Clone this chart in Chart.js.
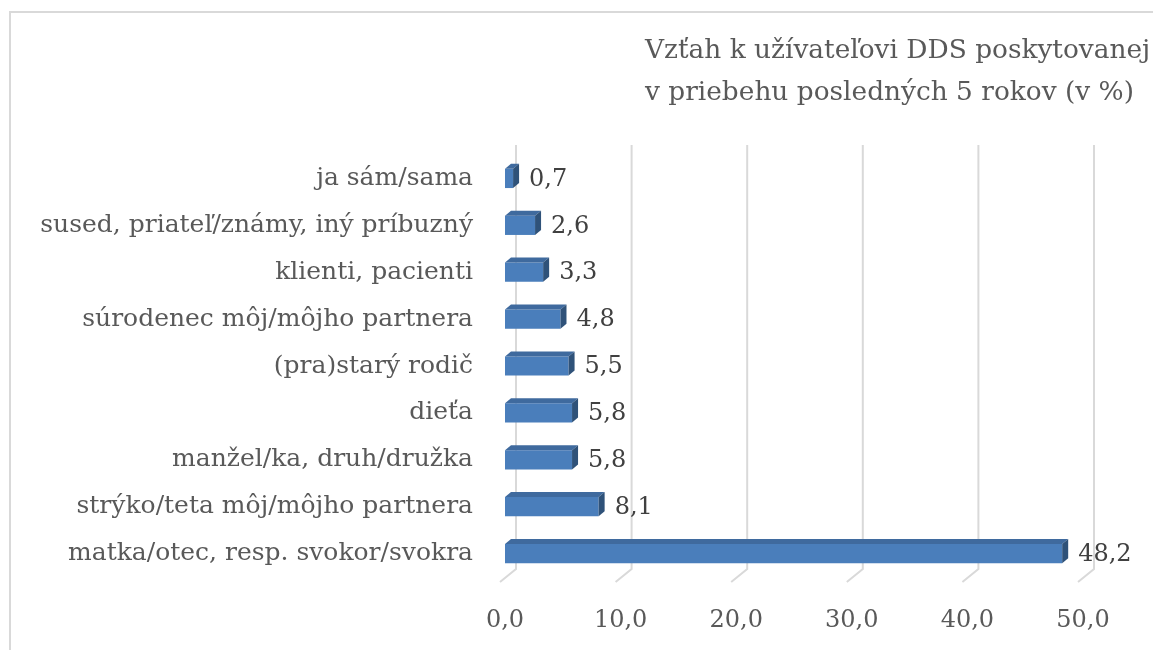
<!DOCTYPE html>
<html lang="sk">
<head>
<meta charset="utf-8">
<title>Vzťah k užívateľovi DDS</title>
<script src="https://cdn.jsdelivr.net/npm/chart.js@4.4.1/dist/chart.umd.min.js"></script>
<style>
  html, body { margin: 0; padding: 0; background: #fff; }
  #wrap { position: relative; width: 1153px; height: 650px; }
</style>
</head>
<body>
<div id="wrap"><canvas id="chart" width="1153" height="650"></canvas></div>
<script>
/* ── Data ─────────────────────────────────────────────── */
const CATEGORIES = [
  "ja sám/sama",
  "sused, priateľ/známy, iný príbuzný",
  "klienti, pacienti",
  "súrodenec môj/môjho partnera",
  "(pra)starý rodič",
  "dieťa",
  "manžel/ka, druh/družka",
  "strýko/teta môj/môjho partnera",
  "matka/otec, resp. svokor/svokra"
];
const VALUES = [0.7, 2.6, 3.3, 4.8, 5.5, 5.8, 5.8, 8.1, 48.2];
const X_TICKS = [0, 10, 20, 30, 40, 50];
const TITLE_LINES = [
  "Vzťah k užívateľovi DDS poskytovanej",
  "v priebehu posledných 5 rokov (v %)"
];

/* ── Style ────────────────────────────────────────────── */
const FONT = "'DejaVu Serif', 'Liberation Serif', serif";
const TEXT = "#595959";
const GRID = "#d9d9d9";
const FRONT = "#4a7ebb";
const TOP = "#3f6a9e";
const SIDE = "#2f5279";
const DX = 6, DY = 5;          // bar depth
const fmt = v => v.toFixed(1).replace(".", ",");

/* frame + title */
const framePlugin = {
  id: "frame",
  beforeDraw(chart) {
    const c = chart.ctx;
    c.save();
    c.strokeStyle = GRID;
    c.lineWidth = 2;
    c.strokeRect(10, 12, 1200, 700);
    c.fillStyle = TEXT;
    c.font = "26.4px " + FONT;
    c.textBaseline = "middle";
    c.textAlign = "left";
    c.fillText(TITLE_LINES[0], 645, 51);
    c.fillText(TITLE_LINES[1], 645, 93);
    c.restore();
  }
};

/* back-wall gridlines with floor diagonals */
const gridPlugin = {
  id: "grid3d",
  beforeDatasetsDraw(chart) {
    const c = chart.ctx, a = chart.chartArea, x = chart.scales.x;
    c.save();
    c.strokeStyle = GRID;
    c.lineWidth = 2;
    X_TICKS.forEach(v => {
      const xf = x.getPixelForValue(v);
      c.beginPath();
      c.moveTo(xf + 11, a.top - 10);
      c.lineTo(xf + 11, a.bottom - 8);
      c.lineTo(xf - 5, a.bottom + 5);
      c.stroke();
    });
    c.restore();
  }
};

/* top/side faces and value labels */
const barPlugin = {
  id: "bar3d",
  afterDatasetsDraw(chart) {
    const c = chart.ctx;
    const meta = chart.getDatasetMeta(0);
    c.save();
    meta.data.forEach((bar, i) => {
      const p = bar.getProps(["x", "y", "base", "height"], true);
      const l = p.base, r = p.x, t = p.y - p.height / 2, b = p.y + p.height / 2;
      c.fillStyle = TOP;
      c.beginPath();
      c.moveTo(l, t); c.lineTo(l + DX, t - DY); c.lineTo(r + DX, t - DY); c.lineTo(r, t);
      c.closePath(); c.fill();
      c.fillStyle = SIDE;
      c.beginPath();
      c.moveTo(r, t); c.lineTo(r + DX, t - DY); c.lineTo(r + DX, b - DY); c.lineTo(r, b);
      c.closePath(); c.fill();
      c.fillStyle = "#404040";
      c.font = "24px " + FONT;
      c.textBaseline = "middle";
      c.textAlign = "left";
      c.fillText(fmt(VALUES[i]), r + 16, p.y + 1);
    });
    c.restore();
  }
};

new Chart(document.getElementById("chart"), {
  type: "bar",
  data: {
    labels: CATEGORIES,
    datasets: [{
      data: VALUES,
      backgroundColor: FRONT,
      borderWidth: 0,
      barPercentage: 0.82,
      categoryPercentage: 0.5
    }]
  },
  options: {
    indexAxis: "y",
    responsive: false,
    animation: false,
    layout: { padding: { top: 155, right: 70, bottom: 0, left: 0 } },
    plugins: { legend: { display: false }, tooltip: { enabled: false } },
    scales: {
      x: {
        min: 0, max: 50,
        afterBuildTicks: s => { s.ticks = X_TICKS.map(v => ({ value: v })); },
        afterFit: s => { s.height = 73; },
        grid: { display: false },
        border: { display: false },
        ticks: { color: TEXT, font: { family: FONT, size: 24 }, padding: 21, callback: v => fmt(v) }
      },
      y: {
        afterFit: s => { s.width = 505; },
        grid: { display: false, drawTicks: false },
        border: { display: false },
        ticks: { color: TEXT, font: { family: FONT, size: 25 }, padding: 32 }
      }
    }
  },
  plugins: [framePlugin, gridPlugin, barPlugin]
});
</script>
</body>
</html>
